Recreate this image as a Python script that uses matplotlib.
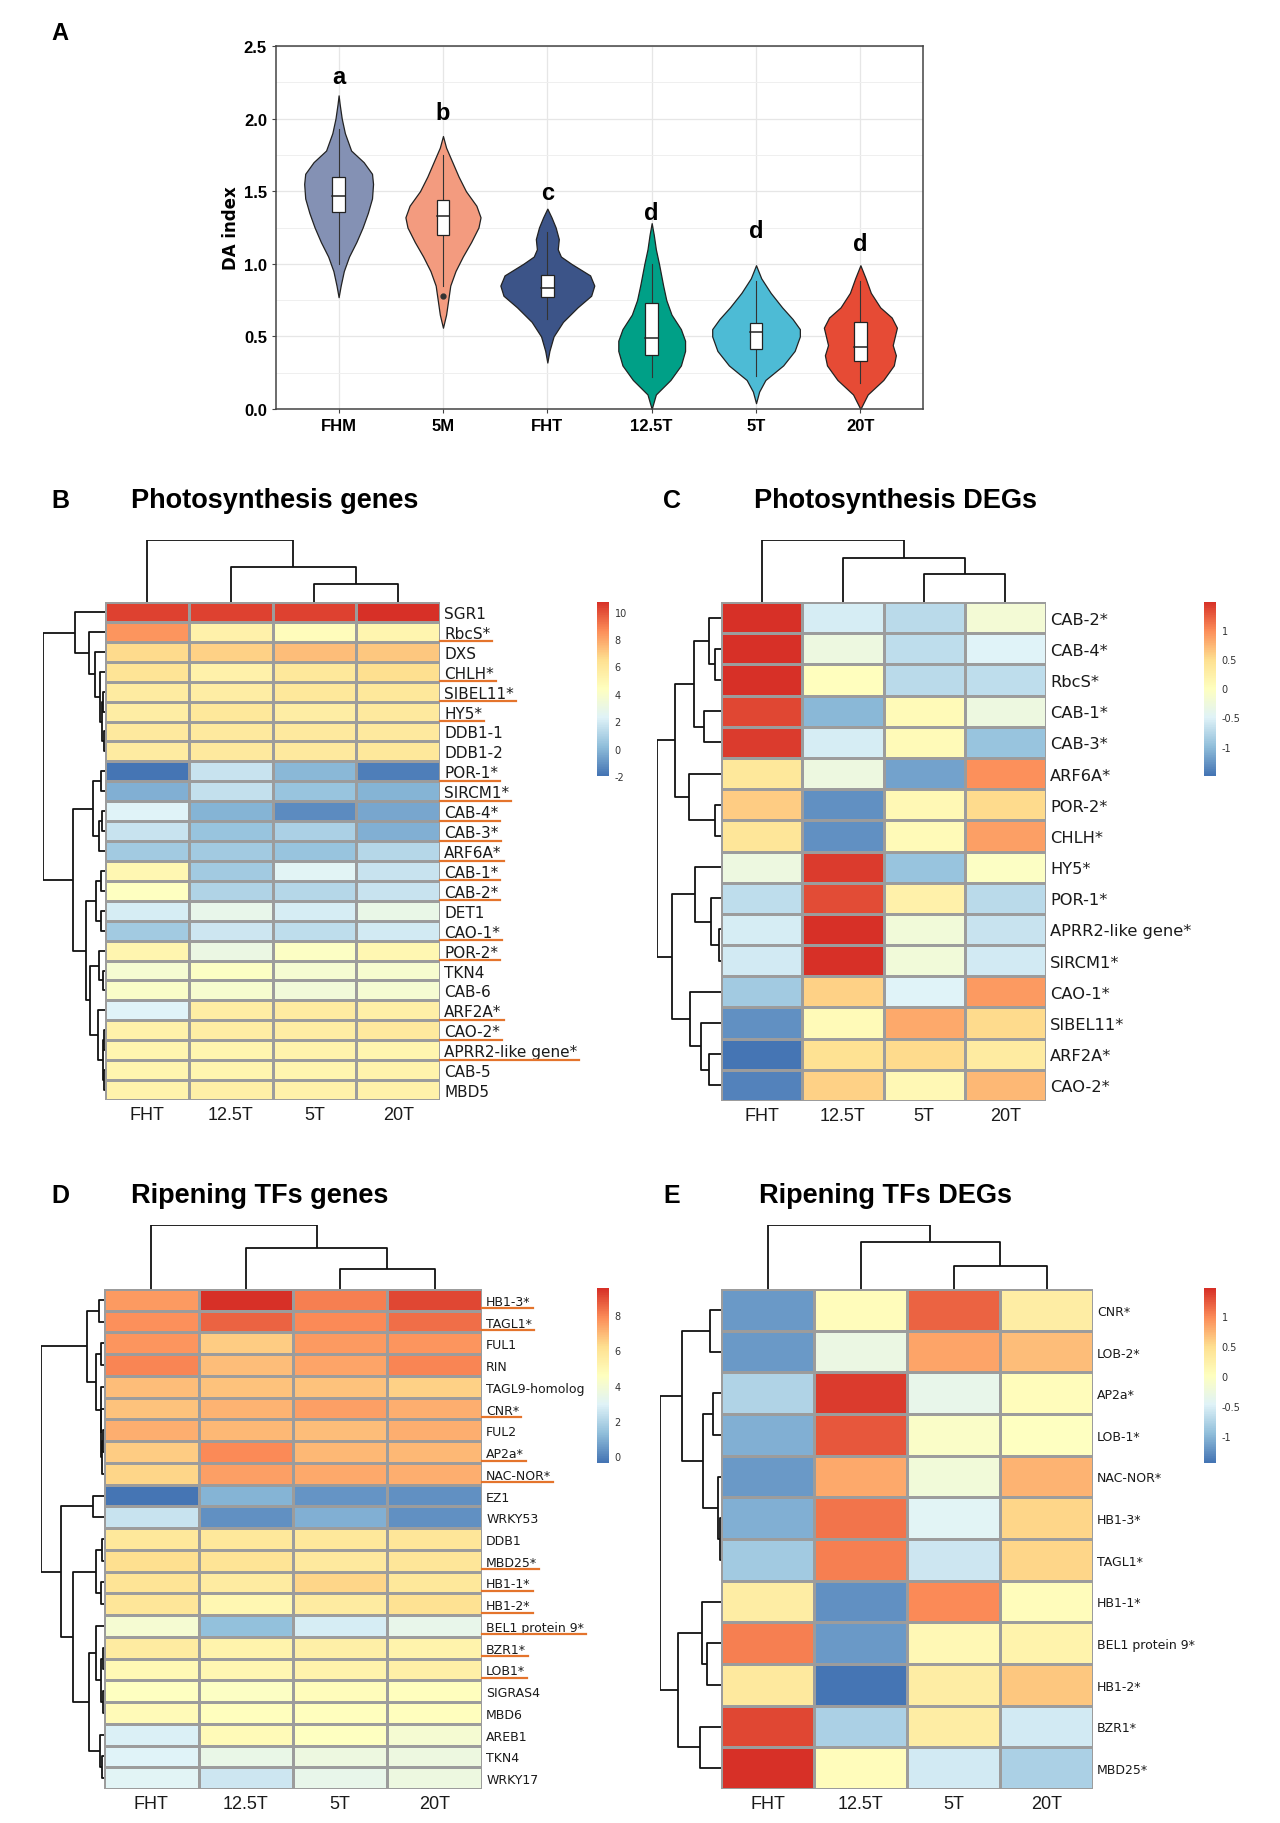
import numpy as np
import matplotlib
matplotlib.use('Agg')
import matplotlib.pyplot as plt
from matplotlib.colors import LinearSegmentedColormap
from matplotlib.patches import Rectangle
from matplotlib.lines import Line2D

# ---------------- panel A data ----------------
groups = ['FHM', '5M', 'FHT', '12.5T', '5T', '20T']
letters = ['a', 'b', 'c', 'd', 'd', 'd']
letter_y = [2.29, 2.04, 1.49, 1.35, 1.23, 1.14]
grp_colors = ['#8491B4', '#F39B7F', '#3C5488', '#00A087', '#4DBBD5', '#E64B35']

# violin outlines: DA index value and half width
fhm_y = [0.77, 0.85, 0.95, 1.05, 1.15, 1.25, 1.35, 1.45, 1.55, 1.62, 1.7, 1.78, 1.9, 2.0, 2.1, 2.16]
fhm_w = [0, 0.02, 0.05, 0.1, 0.17, 0.23, 0.28, 0.32, 0.33, 0.32, 0.24, 0.12, 0.06, 0.03, 0.01, 0]
m5_y = [0.56, 0.65, 0.75, 0.85, 0.95, 1.05, 1.15, 1.25, 1.32, 1.4, 1.5, 1.6, 1.7, 1.8, 1.88]
m5_w = [0, 0.03, 0.05, 0.07, 0.12, 0.19, 0.27, 0.34, 0.36, 0.32, 0.22, 0.15, 0.09, 0.03, 0]
fht_y = [0.32, 0.4, 0.5, 0.6, 0.7, 0.78, 0.85, 0.92, 1.0, 1.05, 1.1, 1.17, 1.25, 1.32, 1.38]
fht_w = [0, 0.02, 0.06, 0.15, 0.29, 0.42, 0.45, 0.41, 0.23, 0.13, 0.1, 0.11, 0.08, 0.04, 0]
t125_y = [0.0, 0.1, 0.2, 0.3, 0.4, 0.47, 0.55, 0.65, 0.75, 0.85, 1.0, 1.1, 1.2, 1.28]
t125_w = [0, 0.04, 0.18, 0.28, 0.32, 0.32, 0.28, 0.19, 0.14, 0.11, 0.07, 0.04, 0.02, 0]
t5_y = [0.04, 0.12, 0.2, 0.3, 0.4, 0.5, 0.55, 0.62, 0.7, 0.8, 0.9, 0.99]
t5_w = [0, 0.03, 0.09, 0.26, 0.37, 0.42, 0.42, 0.35, 0.25, 0.14, 0.05, 0]
t20_y = [0.0, 0.1, 0.2, 0.3, 0.37, 0.44, 0.5, 0.56, 0.63, 0.7, 0.8, 0.9, 0.99]
t20_w = [0, 0.07, 0.22, 0.32, 0.34, 0.31, 0.33, 0.35, 0.3, 0.19, 0.1, 0.05, 0]
violin_y = [fhm_y, m5_y, fht_y, t125_y, t5_y, t20_y]
violin_w = [fhm_w, m5_w, fht_w, t125_w, t5_w, t20_w]

# box stats: q1, median, q3, whisker low, whisker high
q1 = [1.36, 1.20, 0.77, 0.37, 0.41, 0.33]
med = [1.47, 1.33, 0.83, 0.49, 0.53, 0.43]
q3 = [1.60, 1.44, 0.92, 0.73, 0.59, 0.60]
wlo = [1.00, 0.85, 0.62, 0.22, 0.23, 0.18]
whi = [1.93, 1.75, 1.22, 1.00, 0.88, 0.88]
outlier_grp = [1]
outlier_val = [0.78]

# ---------------- heatmap data ----------------
samples = ['FHT', '12.5T', '5T', '20T']

b_genes = ['SGR1', 'RbcS*', 'DXS', 'CHLH*', 'SIBEL11*', 'HY5*', 'DDB1-1', 'DDB1-2',
           'POR-1*', 'SIRCM1*', 'CAB-4*', 'CAB-3*', 'ARF6A*', 'CAB-1*', 'CAB-2*', 'DET1',
           'CAO-1*', 'POR-2*', 'TKN4', 'CAB-6', 'ARF2A*', 'CAO-2*', 'APRR2-like gene*',
           'CAB-5', 'MBD5']
b_vals = [[10.2, 10.3, 10.2, 10.7],
          [8.3, 5.3, 4.6, 5.0],
          [6.6, 6.8, 7.3, 7.1],
          [6.2, 5.3, 5.9, 6.5],
          [5.7, 5.6, 6.0, 6.0],
          [5.6, 5.9, 5.6, 5.8],
          [5.8, 5.8, 5.8, 5.8],
          [5.7, 5.8, 5.8, 5.9],
          [-2.0, 1.6, 0.0, -1.7],
          [-0.3, 1.5, 0.3, -0.1],
          [2.3, -0.2, -1.3, -0.6],
          [1.6, 0.3, 0.8, -0.3],
          [0.6, 0.6, 0.3, 1.1],
          [4.9, 0.6, 2.4, 1.6],
          [4.3, 1.0, 1.1, 1.6],
          [2.0, 2.7, 2.0, 2.9],
          [0.6, 1.7, 1.4, 1.9],
          [5.0, 3.0, 4.1, 4.9],
          [3.6, 4.2, 3.6, 3.8],
          [4.0, 3.8, 3.4, 3.7],
          [2.2, 5.5, 5.7, 5.4],
          [5.3, 5.5, 5.6, 5.8],
          [5.0, 5.0, 5.2, 5.1],
          [5.0, 5.1, 5.0, 5.2],
          [5.2, 5.4, 5.3, 5.3]]
b_ticks = [-2, 0, 2, 4, 6, 8, 10]

c_genes = ['CAB-2*', 'CAB-4*', 'RbcS*', 'CAB-1*', 'CAB-3*', 'ARF6A*', 'POR-2*', 'CHLH*',
           'HY5*', 'POR-1*', 'APRR2-like gene*', 'SIRCM1*', 'CAO-1*', 'SIBEL11*', 'ARF2A*',
           'CAO-2*']
c_vals = [[1.45, -0.55, -0.75, -0.2],
          [1.45, -0.3, -0.7, -0.5],
          [1.45, 0.0, -0.75, -0.7],
          [1.35, -1.05, 0.05, -0.3],
          [1.4, -0.55, 0.05, -0.95],
          [0.35, -0.3, -1.2, 0.95],
          [0.6, -1.3, 0.1, 0.5],
          [0.4, -1.3, 0.05, 0.85],
          [-0.3, 1.4, -0.95, -0.05],
          [-0.7, 1.3, 0.2, -0.75],
          [-0.55, 1.47, -0.25, -0.65],
          [-0.6, 1.45, -0.25, -0.6],
          [-0.9, 0.55, -0.5, 0.9],
          [-1.3, 0.05, 0.8, 0.5],
          [-1.5, 0.45, 0.5, 0.3],
          [-1.4, 0.55, 0.1, 0.7]]
c_ticks = [-1, -0.5, 0, 0.5, 1]

d_genes = ['HB1-3*', 'TAGL1*', 'FUL1', 'RIN', 'TAGL9-homolog', 'CNR*', 'FUL2', 'AP2a*',
           'NAC-NOR*', 'EZ1', 'WRKY53', 'DDB1', 'MBD25*', 'HB1-1*', 'HB1-2*',
           'BEL1 protein 9*', 'BZR1*', 'LOB1*', 'SIGRAS4', 'MBD6', 'AREB1', 'TKN4', 'WRKY17']
d_vals = [[7.6, 9.55, 8.1, 9.1],
          [7.8, 8.6, 7.9, 8.4],
          [7.7, 6.6, 7.6, 7.7],
          [8.0, 6.9, 7.4, 8.0],
          [6.9, 6.8, 6.8, 6.5],
          [6.8, 7.1, 7.5, 7.2],
          [7.2, 7.0, 6.9, 7.2],
          [6.6, 7.9, 7.0, 7.0],
          [6.4, 7.5, 7.3, 7.2],
          [-0.4, 1.0, 0.3, 0.2],
          [2.4, 0.2, 0.9, 0.2],
          [5.8, 5.8, 5.8, 5.9],
          [6.2, 6.0, 5.7, 5.9],
          [6.0, 5.6, 6.4, 5.8],
          [5.9, 5.0, 5.6, 6.1],
          [4.0, 1.3, 2.7, 3.3],
          [5.6, 5.2, 5.4, 5.2],
          [4.9, 5.0, 5.2, 5.4],
          [4.5, 4.4, 4.7, 4.6],
          [4.8, 4.6, 4.6, 4.6],
          [2.8, 4.8, 4.5, 4.0],
          [2.9, 3.4, 3.6, 3.6],
          [3.0, 2.5, 3.3, 3.6]]
d_ticks = [0, 2, 4, 6, 8]

e_genes = ['CNR*', 'LOB-2*', 'AP2a*', 'LOB-1*', 'NAC-NOR*', 'HB1-3*', 'TAGL1*', 'HB1-1*',
           'BEL1 protein 9*', 'HB1-2*', 'BZR1*', 'MBD25*']
e_vals = [[-1.2, 0.05, 1.2, 0.3],
          [-1.2, -0.3, 0.85, 0.7],
          [-0.75, 1.4, -0.35, 0.05],
          [-1.05, 1.25, -0.05, 0.0],
          [-1.2, 0.8, -0.2, 0.75],
          [-1.05, 1.1, -0.45, 0.55],
          [-0.85, 1.05, -0.6, 0.55],
          [0.3, -1.25, 1.0, 0.05],
          [1.05, -1.2, 0.1, 0.2],
          [0.35, -1.45, 0.3, 0.65],
          [1.35, -0.8, 0.3, -0.55],
          [1.47, 0.05, -0.55, -0.8]]
e_ticks = [-1, -0.5, 0, 0.5, 1]

# dendrograms: (left, right, height), leaves are row/col indices
b_tree = ((0, (1, (2, (3, ((4, 5, 0.03), (6, 7, 0.02), 0.05), 0.08), 0.165), 0.255), 0.49),
          (((8, 9, 0.07), ((10, 11, 0.05), 12, 0.10), 0.19),
           (((13, 14, 0.06), (15, 16, 0.07), 0.15),
            ((17, (18, 19, 0.03), 0.10), (20, ((21, 22, 0.02), (23, 24, 0.02), 0.04), 0.12), 0.25),
            0.30), 0.52), 1.0)
c_tree = ((((0, (1, 2, 0.09), 0.18), (3, 4, 0.26), 0.42), (5, (6, 7, 0.09), 0.5), 0.72),
          ((8, (9, (10, 11, 0.03), 0.15), 0.4), (12, (13, (14, 15, 0.18), 0.32), 0.48), 0.76),
          1.0)
d_tree = (((0, 1, 0.08), ((2, 3, 0.05), (4, (5, ((6, 7, 0.02), 8, 0.03), 0.04), 0.05), 0.13), 0.27),
          ((9, 10, 0.17),
           (((11, 12, 0.03), (13, 14, 0.04), 0.12),
            ((15, ((16, 17, 0.02), (18, 19, 0.02), 0.04), 0.12), (20, (21, 22, 0.03), 0.07), 0.24),
            0.49), 0.69), 1.0)
e_tree = (((0, 1, 0.18), ((2, 3, 0.13), (4, (5, 6, 0.01), 0.05), 0.29), 0.64),
          ((7, (8, 9, 0.23), 0.31), (10, 11, 0.34), 0.71), 1.0)
b_col = (0, (1, (2, 3, 0.29), 0.57), 1.0)
c_col = (0, (1, (2, 3, 0.45), 0.71), 1.0)
d_col = (0, (1, (2, 3, 0.32), 0.64), 1.0)
e_col = (0, (1, (2, 3, 0.36), 0.74), 1.0)

# ---------------- figure ----------------
W, H = 1280, 1824
fig = plt.figure(figsize=(W / 100, H / 100), dpi=100)
fig.patch.set_facecolor('white')


def px(x0, y0, x1, y1):
    return [x0 / W, 1 - y1 / H, (x1 - x0) / W, (y1 - y0) / H]


narrow = ['Liberation Sans Narrow', 'Liberation Sans']
cmap = LinearSegmentedColormap.from_list(
    'ph', ['#4575B4', '#91BFDB', '#E0F3F8', '#FFFFBF', '#FEE090', '#FC8D59', '#D73027'], N=100)

# ---- panel A ----
fig.text(60 / W, 1 - 33 / H, 'A', fontsize=17, fontweight='bold', family=narrow,
         ha='center', va='center')
ax = fig.add_axes(px(276, 47, 923, 410))
ax.set_xlim(0.4, 6.6)
ax.set_ylim(0, 2.5)
ax.set_yticks([0, 0.5, 1.0, 1.5, 2.0, 2.5])
ax.set_yticks(np.arange(0.25, 2.5, 0.5), minor=True)
ax.set_xticks(range(1, 7))
ax.set_xticklabels(groups)
ax.grid(True, which='major', color='#E6E6E6', lw=0.9)
ax.grid(True, which='minor', axis='y', color='#EFEFEF', lw=0.7)
ax.set_axisbelow(True)
for s in ax.spines.values():
    s.set_color('#444444')
    s.set_linewidth(1.1)
ax.tick_params(which='major', length=3, color='#444444', labelsize=12)
ax.tick_params(which='minor', length=0)
ax.set_yticklabels([f'{v:.1f}' for v in [0, 0.5, 1.0, 1.5, 2.0, 2.5]])
for t in ax.get_xticklabels() + ax.get_yticklabels():
    t.set_fontweight('bold')
    t.set_family(narrow)
ax.set_ylabel('DA index', fontsize=12, fontweight='bold', labelpad=3)

for i in range(len(groups)):
    x = i + 1
    yy = np.array(violin_y[i])
    ww = np.array(violin_w[i])
    ax.fill_betweenx(yy, x - ww, x + ww, facecolor=grp_colors[i], edgecolor='#222222',
                     lw=0.9, zorder=2)
    ax.plot([x, x], [wlo[i], whi[i]], color='#333333', lw=0.8, zorder=3)
    ax.add_patch(Rectangle((x - 0.06, q1[i]), 0.12, q3[i] - q1[i], facecolor='white',
                           edgecolor='#222222', lw=0.9, zorder=4))
    ax.plot([x - 0.06, x + 0.06], [med[i], med[i]], color='#222222', lw=1.1, zorder=5)
    ax.text(x, letter_y[i], letters[i], fontsize=17, fontweight='bold', family=narrow,
            ha='center', va='center')
for g, v in zip(outlier_grp, outlier_val):
    ax.plot(g + 1, v, 'o', color='#333333', ms=3.5, zorder=6)


# ---- heatmaps ----
def draw_tree(ax, node, rows):
    if isinstance(node, int):
        return node + 0.5, 0.0
    l, r, h = node
    pl, hl = draw_tree(ax, l, rows)
    pr, hr = draw_tree(ax, r, rows)
    if rows:
        ax.plot([hl, h, h, hr], [pl, pl, pr, pr], color='#111111', lw=1.3,
                solid_capstyle='butt')
    else:
        ax.plot([pl, pl, pr, pr], [hl, h, h, hr], color='#111111', lw=1.3,
                solid_capstyle='butt')
    return (pl + pr) / 2, h


def heatmap(box, rd_x0, cd_y0, cb_box, vals, genes, tree, col_tree, ticks, lab_size,
            lab_font, letter, title, letter_xy, title_x):
    vals = np.array(vals)
    n, m = vals.shape
    vmin, vmax = vals.min(), vals.max()
    x0, y0, x1, y1 = box
    hax = fig.add_axes(px(x0, y0, x1, y1))
    hax.pcolormesh(np.arange(m + 1), np.arange(n + 1), vals, cmap=cmap, vmin=vmin,
                   vmax=vmax, edgecolors='#9C9C9C', linewidth=1.0)
    hax.set_xlim(0, m)
    hax.set_ylim(n, 0)
    for s in hax.spines.values():
        s.set_visible(False)
    hax.yaxis.tick_right()
    hax.set_yticks(np.arange(n) + 0.5)
    hax.set_yticklabels(genes, fontsize=lab_size, family=lab_font, color='#1a1a1a')
    hax.set_xticks(np.arange(m) + 0.5)
    hax.set_xticklabels(samples, fontsize=13, family='Liberation Sans', color='#1a1a1a')
    hax.tick_params(length=0, pad=3)
    hax.tick_params(axis='x', pad=4)

    rax = fig.add_axes(px(rd_x0, y0, x0, y1))
    draw_tree(rax, tree, True)
    rax.set_ylim(n, 0)
    rax.set_xlim(1.0, 0)
    rax.axis('off')

    cax = fig.add_axes(px(x0, cd_y0, x1, y0))
    draw_tree(cax, col_tree, False)
    cax.set_xlim(0, m)
    cax.set_ylim(0, 1.0)
    cax.axis('off')

    bx0, by0, bx1, by1 = cb_box
    kax = fig.add_axes(px(bx0, by0, bx1, by1))
    kax.imshow(np.linspace(vmax, vmin, 200)[:, None], aspect='auto', cmap=cmap,
               vmin=vmin, vmax=vmax, extent=(0, 1, vmin, vmax))
    kax.set_xticks([])
    kax.yaxis.tick_right()
    kax.set_yticks(ticks)
    kax.set_yticklabels([f'{t:g}' for t in ticks], fontsize=7, color='#333333')
    kax.tick_params(length=0, pad=4)
    for s in kax.spines.values():
        s.set_visible(False)

    fig.text(letter_xy[0] / W, 1 - letter_xy[1] / H, letter, fontsize=18,
             fontweight='bold', family='Liberation Sans', ha='center', va='center')
    fig.text(title_x / W, 1 - letter_xy[1] / H, title, fontsize=19.5, fontweight='bold',
             family='Liberation Sans', ha='left', va='center')
    return hax


hb = heatmap((105, 603, 440, 1101), 43, 541, (597, 603, 609, 777), b_vals, b_genes, b_tree,
             b_col, b_ticks, 11, 'DejaVu Sans', 'B', 'Photosynthesis genes', (60, 501), 131)
hc = heatmap((721, 603, 1046, 1102), 657, 541, (1204, 603, 1216, 777), c_vals, c_genes,
             c_tree, c_col, c_ticks, 11.7, 'DejaVu Sans', 'C', 'Photosynthesis DEGs',
             (672, 501), 754)
hd = heatmap((104, 1290, 482, 1790), 41, 1226, (597, 1289, 609, 1464), d_vals, d_genes,
             d_tree, d_col, d_ticks, 9, 'DejaVu Sans', 'D', 'Ripening TFs genes',
             (60, 1196), 131)
he = heatmap((721, 1290, 1093, 1790), 660, 1226, (1204, 1289, 1216, 1464), e_vals, e_genes,
             e_tree, e_col, e_ticks, 9, 'DejaVu Sans', 'E', 'Ripening TFs DEGs',
             (672, 1196), 759)

# orange underlines under the starred genes of B and D
fig.canvas.draw()
renderer = fig.canvas.get_renderer()
for hax in (hb, hd):
    xr = hax.get_window_extent(renderer).x1
    for lab in hax.get_yticklabels():
        if '*' in lab.get_text():
            bb = lab.get_window_extent(renderer)
            yl = bb.y0 - 0.5
            fig.add_artist(Line2D([xr / W, (bb.x1 + 2) / W], [yl / H, yl / H],
                                  color='#E4742C', lw=1.6))

fig.savefig('out.png', dpi=100, facecolor='white')
